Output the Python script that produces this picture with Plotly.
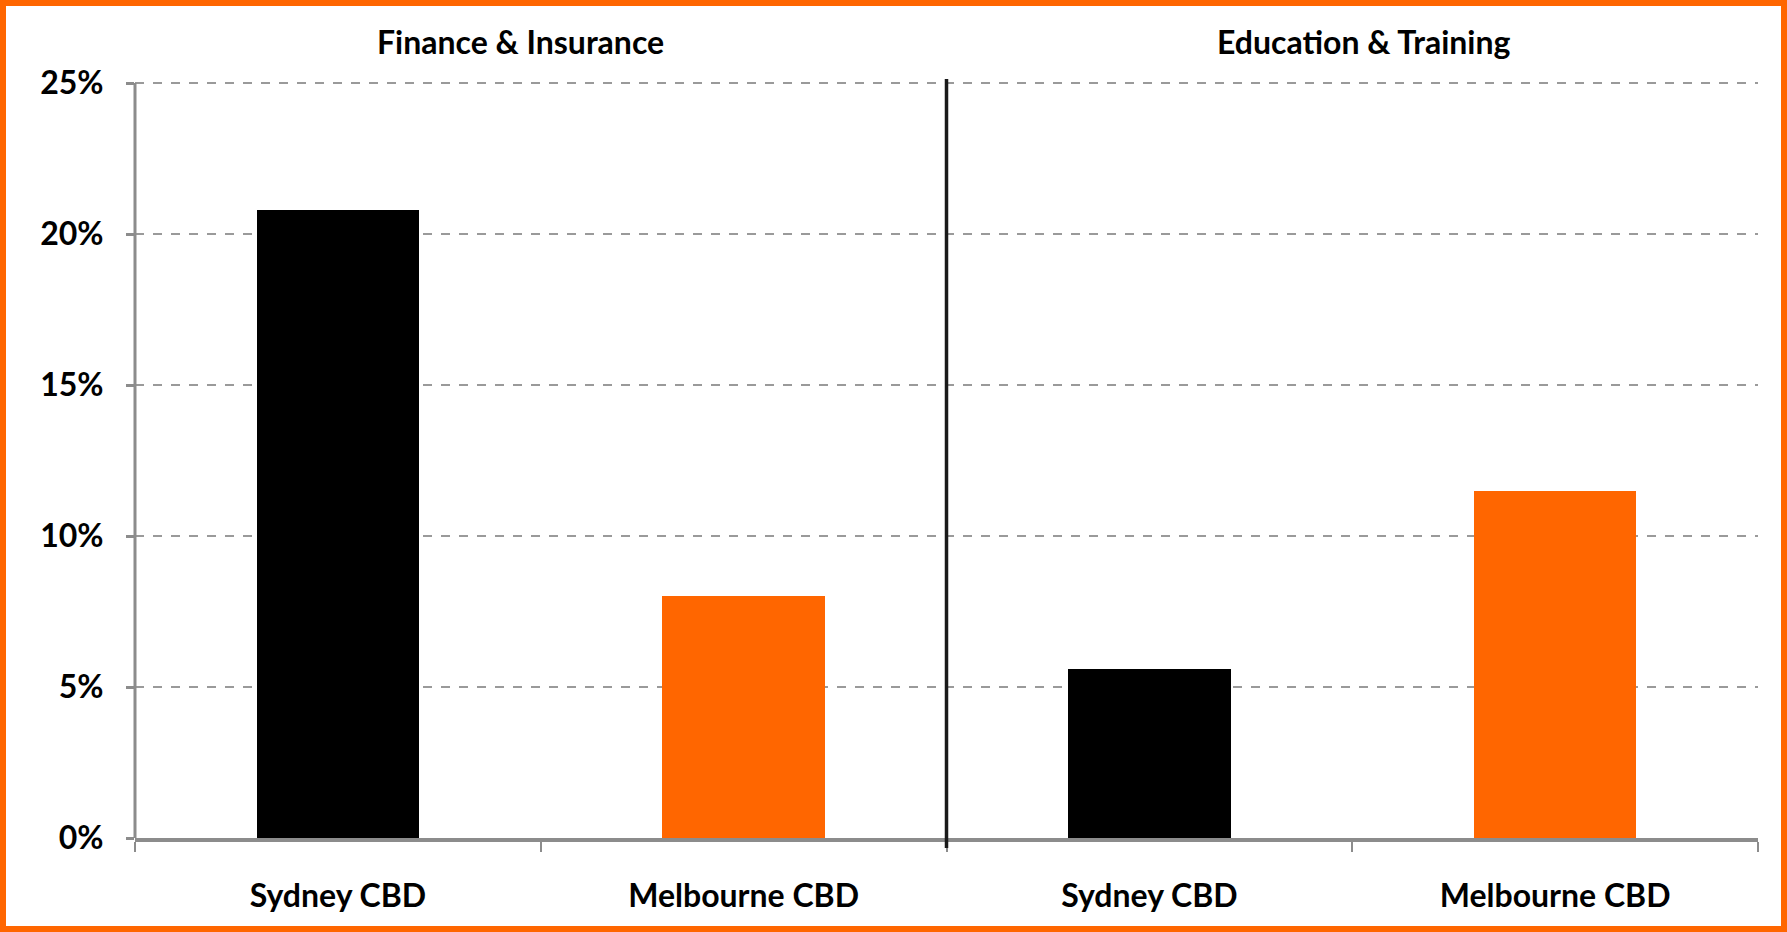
import plotly.graph_objects as go

# ---- data ----
panels = ["Finance & Insurance", "Education & Training"]
cities = ["Sydney CBD", "Melbourne CBD"]
finance_values = [20.8, 8.0]
education_values = [5.6, 11.5]
bar_colors = ["#000000", "#FF6600"]
y_ticks = [0, 5, 10, 15, 20, 25]
y_tick_labels = ["0%", "5%", "10%", "15%", "20%", "25%"]

W, H = 1787, 932
ML, MR, MT, MB = 135, 29, 79, 94
FONT = "Lato"
FS = 32
ph = H - MT - MB
pw = W - ML - MR
px_per_unit = (H - 83 - MB) / 25.0
y_top = 25 + (83 - MT) / px_per_unit

xs = [0, 1, 2, 3]
vals = finance_values + education_values
cols = bar_colors + bar_colors
labels = cities + cities

fig = go.Figure()
fig.add_trace(go.Bar(x=xs, y=vals, width=0.4, marker=dict(color=cols, line=dict(width=0)),
                     showlegend=False, hoverinfo="y"))
# invisible trace for the label axis
fig.add_trace(go.Scatter(x=xs, y=vals, xaxis="x2", mode="markers",
                         marker=dict(opacity=0), showlegend=False, hoverinfo="skip"))

fig.update_layout(
    width=W, height=H,
    margin=dict(l=ML, r=MR, t=MT, b=MB),
    paper_bgcolor="white", plot_bgcolor="white",
    font=dict(family=FONT, color="black"),
    xaxis=dict(range=[-0.5, 3.5], tickmode="array", tickvals=[-0.5, 0.5, 1.5, 2.5, 3.5],
               ticktext=["", "", "", "", ""], ticks="outside", ticklen=10, tickwidth=2,
               tickcolor="#8c8c8c", showgrid=False, showline=True, linecolor="#8c8c8c",
               linewidth=4, zeroline=False, fixedrange=True),
    xaxis2=dict(range=[-0.5, 3.5], overlaying="x", side="bottom", tickmode="array",
                tickvals=xs, ticktext=labels, ticks="", showgrid=False, showline=False,
                zeroline=False, ticklabelstandoff=36,
                tickfont=dict(family=FONT, size=FS, color="black", weight="bold")),
    yaxis=dict(range=[0, y_top], tickmode="array", tickvals=y_ticks, ticktext=y_tick_labels,
               ticks="outside", ticklen=8, tickwidth=3, tickcolor="#8c8c8c",
               showline=False,
               showgrid=True, gridcolor="#9a9a9a", gridwidth=1.5, griddash="dash",
               zeroline=False, ticklabelstandoff=16,
               tickfont=dict(family=FONT, size=FS, color="black", weight="bold")),
    bargap=0,
)

# y axis line from 0% to 25%
fig.add_shape(type="line", xref="paper", yref="y", x0=0, x1=0, y0=0, y1=y_ticks[-1],
              line=dict(color="#8c8c8c", width=3))

# panel titles
title_x = [0.45, 2.53]
for name, tx in zip(panels, title_x):
    fig.add_annotation(x=tx, xref="x", y=1 + (MT - 42) / ph, yref="paper",
                       text=name, showarrow=False, yanchor="middle",
                       font=dict(family=FONT, size=FS, color="black", weight="bold"))

# panel divider
fig.add_shape(type="line", xref="x", yref="paper", x0=1.5, x1=1.5,
              y0=-10 / ph, y1=1.0, line=dict(color="#1a1a1a", width=3.5))

# orange frame
fig.add_shape(type="rect", xref="paper", yref="paper",
              x0=(3 - ML) / pw, x1=(W - 3 - ML) / pw,
              y0=(-(MB - 3)) / ph, y1=1 + (MT - 3) / ph,
              line=dict(color="#FF6600", width=6), fillcolor="rgba(0,0,0,0)", layer="above")

fig.write_html("out.html", config={"displayModeBar": False},
               post_script="document.body.style.margin='0';document.body.style.overflow='hidden';")
